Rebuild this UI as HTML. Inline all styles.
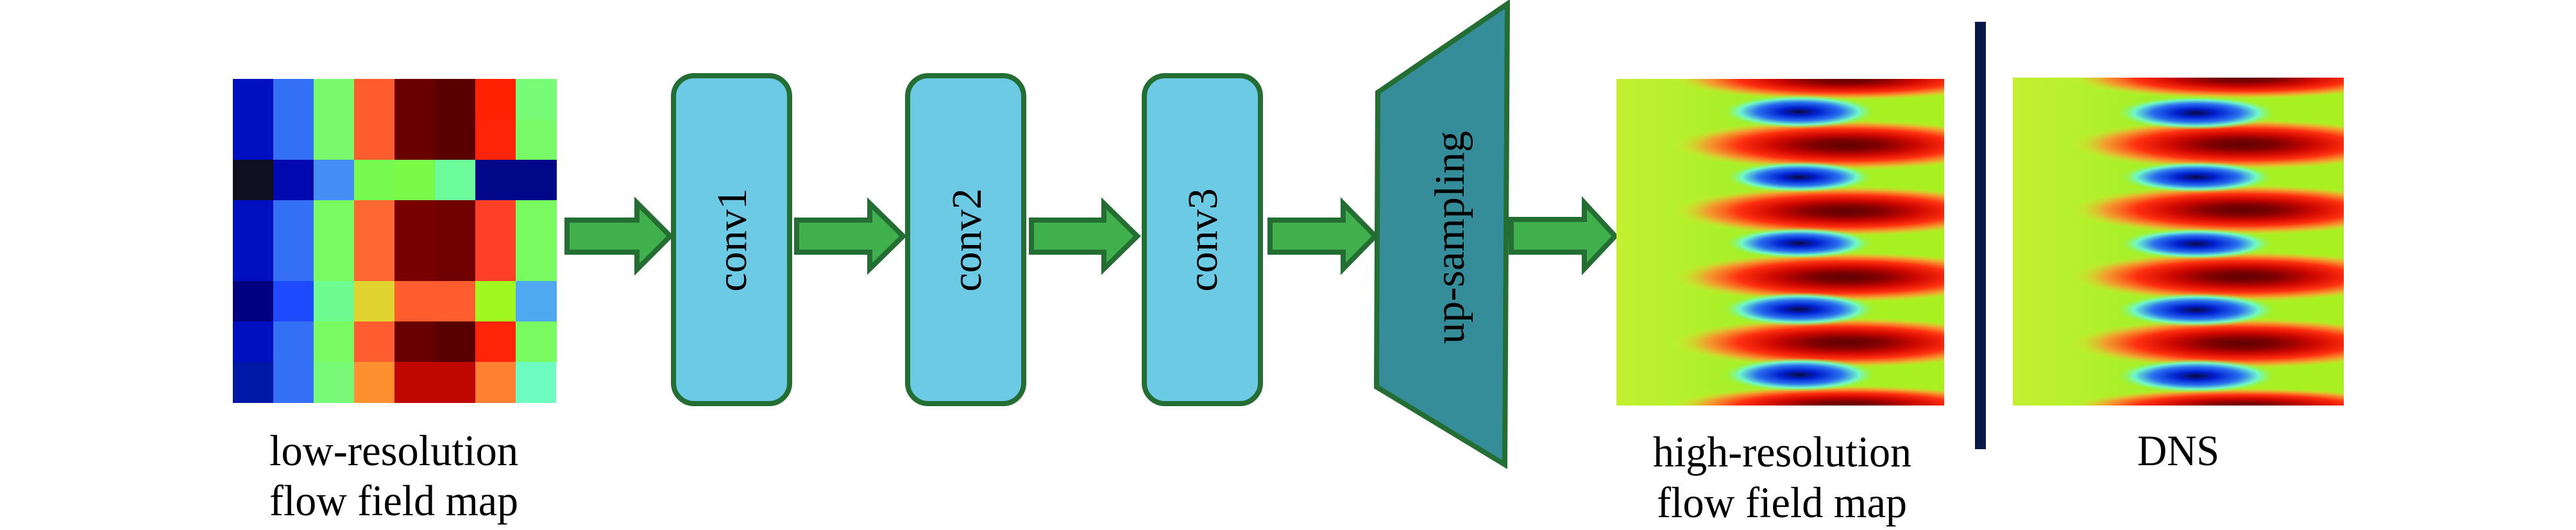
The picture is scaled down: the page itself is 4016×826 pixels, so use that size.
<!DOCTYPE html>
<html><head><meta charset="utf-8"><style>html,body{margin:0;padding:0;background:#fff}svg{display:block}</style></head>
<body>
<svg width="4016" height="826" viewBox="0 0 4016 826" xmlns="http://www.w3.org/2000/svg" font-family="Liberation Serif, serif">
<defs>
<radialGradient id="red" cx="0.55" cy="0.5" r="0.5">
<stop offset="0" stop-color="#600000"/><stop offset="0.2" stop-color="#800000"/><stop offset="0.42" stop-color="#d00800"/><stop offset="0.62" stop-color="#ff3010"/><stop offset="0.8" stop-color="#ff9030" stop-opacity="0.85"/><stop offset="1" stop-color="#d8f030" stop-opacity="0"/>
</radialGradient>
<radialGradient id="blue" cx="0.5" cy="0.5" r="0.5">
<stop offset="0" stop-color="#0a0a40"/><stop offset="0.25" stop-color="#0020d0"/><stop offset="0.55" stop-color="#2a70f0"/><stop offset="0.78" stop-color="#70f8c8"/><stop offset="1" stop-color="#90f840" stop-opacity="0"/>
</radialGradient>
<linearGradient id="bg" x1="0" x2="1" y1="0" y2="0">
<stop offset="0" stop-color="#c4f030"/><stop offset="0.4" stop-color="#a4f028"/><stop offset="1" stop-color="#a8f020"/>
</linearGradient>
<clipPath id="c1"><rect x="2520" y="123" width="511" height="509"/></clipPath>
<clipPath id="c2"><rect x="3138" y="121" width="516" height="511"/></clipPath>
</defs>

<g shape-rendering="crispEdges">
<rect x="363" y="123" width="64" height="64" fill="#0010c0"/><rect x="426" y="123" width="64" height="64" fill="#3370f5"/><rect x="489" y="123" width="64" height="64" fill="#78fa6c"/><rect x="552" y="123" width="64" height="64" fill="#ff5c2e"/><rect x="615" y="123" width="64" height="64" fill="#680000"/><rect x="678" y="123" width="64" height="64" fill="#580000"/><rect x="741" y="123" width="64" height="64" fill="#ff2200"/><rect x="804" y="123" width="64" height="64" fill="#78fc78"/>
<rect x="363" y="186" width="64" height="64" fill="#0010c0"/><rect x="426" y="186" width="64" height="64" fill="#3370f5"/><rect x="489" y="186" width="64" height="64" fill="#78fa6c"/><rect x="552" y="186" width="64" height="64" fill="#ff5c2e"/><rect x="615" y="186" width="64" height="64" fill="#680000"/><rect x="678" y="186" width="64" height="64" fill="#580000"/><rect x="741" y="186" width="64" height="64" fill="#ff2408"/><rect x="804" y="186" width="64" height="64" fill="#78fa68"/>
<rect x="363" y="249" width="64" height="64" fill="#100f20"/><rect x="426" y="249" width="64" height="64" fill="#0008b0"/><rect x="489" y="249" width="64" height="64" fill="#458ef5"/><rect x="552" y="249" width="64" height="64" fill="#78fa50"/><rect x="615" y="249" width="64" height="64" fill="#7cfa48"/><rect x="678" y="249" width="64" height="64" fill="#6cfc9c"/><rect x="741" y="249" width="64" height="64" fill="#000888"/><rect x="804" y="249" width="64" height="64" fill="#000888"/>
<rect x="363" y="312" width="64" height="64" fill="#0010c0"/><rect x="426" y="312" width="64" height="64" fill="#3370f5"/><rect x="489" y="312" width="64" height="64" fill="#78fa60"/><rect x="552" y="312" width="64" height="64" fill="#ff6830"/><rect x="615" y="312" width="64" height="64" fill="#780000"/><rect x="678" y="312" width="64" height="64" fill="#700000"/><rect x="741" y="312" width="64" height="64" fill="#ff4028"/><rect x="804" y="312" width="64" height="64" fill="#78fa60"/>
<rect x="363" y="375" width="64" height="64" fill="#0010c0"/><rect x="426" y="375" width="64" height="64" fill="#3370f5"/><rect x="489" y="375" width="64" height="64" fill="#78fa60"/><rect x="552" y="375" width="64" height="64" fill="#ff6830"/><rect x="615" y="375" width="64" height="64" fill="#780000"/><rect x="678" y="375" width="64" height="64" fill="#700000"/><rect x="741" y="375" width="64" height="64" fill="#ff4028"/><rect x="804" y="375" width="64" height="64" fill="#78fa60"/>
<rect x="363" y="438" width="64" height="64" fill="#000080"/><rect x="426" y="438" width="64" height="64" fill="#1e4aff"/><rect x="489" y="438" width="64" height="64" fill="#6efc90"/><rect x="552" y="438" width="64" height="64" fill="#e2d430"/><rect x="615" y="438" width="64" height="64" fill="#ff5c30"/><rect x="678" y="438" width="64" height="64" fill="#ff5c30"/><rect x="741" y="438" width="64" height="64" fill="#a0f820"/><rect x="804" y="438" width="64" height="64" fill="#50a8f0"/>
<rect x="363" y="501" width="64" height="64" fill="#0010c0"/><rect x="426" y="501" width="64" height="64" fill="#3370f5"/><rect x="489" y="501" width="64" height="64" fill="#78fa60"/><rect x="552" y="501" width="64" height="64" fill="#ff5c30"/><rect x="615" y="501" width="64" height="64" fill="#680000"/><rect x="678" y="501" width="64" height="64" fill="#580000"/><rect x="741" y="501" width="64" height="64" fill="#ff2408"/><rect x="804" y="501" width="64" height="64" fill="#78fa60"/>
<rect x="363" y="564" width="64" height="64" fill="#0018a8"/><rect x="426" y="564" width="64" height="64" fill="#3370f5"/><rect x="489" y="564" width="64" height="64" fill="#78fa78"/><rect x="552" y="564" width="64" height="64" fill="#ff9030"/><rect x="615" y="564" width="64" height="64" fill="#c00800"/><rect x="678" y="564" width="64" height="64" fill="#c00800"/><rect x="741" y="564" width="64" height="64" fill="#ff8030"/><rect x="804" y="564" width="63" height="64" fill="#6cfcc0"/>
</g>

<g fill="#40b04c" stroke="#246e34" stroke-width="8" stroke-linejoin="miter">
<polygon points="884,343 993,343 993,316 1045,368 993,420 993,393 884,393"/>
<polygon points="1242,343 1356,343 1356,317 1408,368 1356,419 1356,393 1242,393"/>
<polygon points="1608,343 1721,343 1721,317 1773,368 1721,419 1721,393 1608,393"/>
<polygon points="1980,343 2094,343 2094,317 2144,368 2094,419 2094,393 1980,393"/>
<polygon points="2356,342 2470,342 2470,316 2518,368 2470,419 2470,393 2356,393"/>
</g>

<g fill="#6ccae4" stroke="#246e34" stroke-width="8">
<rect x="1050" y="118" width="181" height="511" rx="32"/>
<rect x="1415" y="118" width="181" height="511" rx="32"/>
<rect x="1784" y="118" width="181" height="511" rx="32"/>
</g>
<g font-size="66" fill="#000" text-anchor="middle">
<text transform="translate(1163,374) rotate(-90)">conv1</text>
<text transform="translate(1529,374) rotate(-90)">conv2</text>
<text transform="translate(1897,374) rotate(-90)">conv3</text>
</g>

<polygon points="2148,144 2350,6 2346,724 2146,603" fill="#368d9a" stroke="#246e34" stroke-width="8"/>
<text transform="translate(2282,370) rotate(-90)" font-size="66" text-anchor="middle" fill="#000" textLength="332" lengthAdjust="spacingAndGlyphs">up-sampling</text>

<g clip-path="url(#c1)">
<rect x="2520" y="123" width="511" height="509" fill="url(#bg)"/>
<g fill="url(#red)">
<ellipse cx="2850" cy="123" rx="270" ry="34"/>
<ellipse cx="2850" cy="226" rx="270" ry="40"/>
<ellipse cx="2850" cy="329" rx="270" ry="40"/>
<ellipse cx="2850" cy="432" rx="270" ry="40"/>
<ellipse cx="2850" cy="534" rx="270" ry="40"/>
<ellipse cx="2850" cy="632" rx="270" ry="32"/>
</g>
<g fill="url(#blue)">
<ellipse cx="2805" cy="174" rx="120" ry="26"/>
<ellipse cx="2805" cy="276" rx="115" ry="24"/>
<ellipse cx="2805" cy="379" rx="115" ry="24"/>
<ellipse cx="2805" cy="482" rx="120" ry="26"/>
<ellipse cx="2805" cy="584" rx="120" ry="26"/>
</g>
</g>

<rect x="3079" y="34" width="17" height="666" fill="#0a1848"/>

<g clip-path="url(#c2)">
<rect x="3138" y="121" width="516" height="511" fill="url(#bg)"/>
<g fill="url(#red)">
<ellipse cx="3470" cy="121" rx="270" ry="34"/>
<ellipse cx="3470" cy="225" rx="270" ry="40"/>
<ellipse cx="3470" cy="327" rx="270" ry="40"/>
<ellipse cx="3470" cy="431" rx="270" ry="40"/>
<ellipse cx="3470" cy="535" rx="270" ry="40"/>
<ellipse cx="3470" cy="634" rx="270" ry="30"/>
</g>
<g fill="url(#blue)">
<ellipse cx="3424" cy="176" rx="125" ry="26"/>
<ellipse cx="3424" cy="276" rx="120" ry="24"/>
<ellipse cx="3424" cy="380" rx="120" ry="24"/>
<ellipse cx="3424" cy="483" rx="125" ry="26"/>
<ellipse cx="3424" cy="586" rx="125" ry="26"/>
</g>
</g>

<g font-size="68" fill="#000">
<text x="420" y="725" textLength="388" lengthAdjust="spacingAndGlyphs">low-resolution</text>
<text x="420" y="803" textLength="388" lengthAdjust="spacingAndGlyphs">flow field map</text>
<text x="2577" y="727" textLength="403" lengthAdjust="spacingAndGlyphs">high-resolution</text>
<text x="2583" y="806" textLength="390" lengthAdjust="spacingAndGlyphs">flow field map</text>
<text x="3332" y="725" textLength="128" lengthAdjust="spacingAndGlyphs">DNS</text>
</g>
</svg>
</body></html>
